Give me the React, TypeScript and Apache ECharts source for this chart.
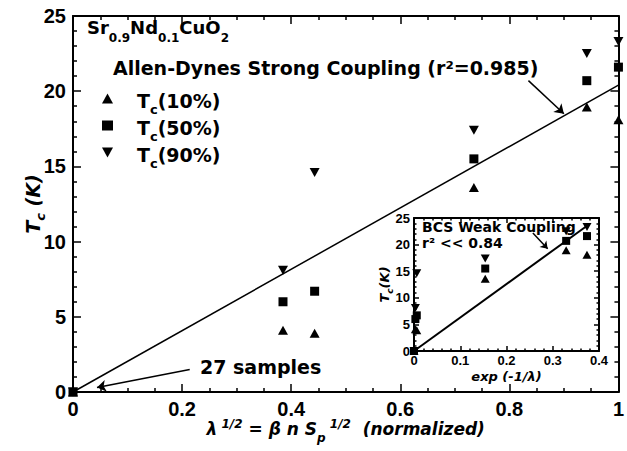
import React, { useEffect, useRef } from "react";
import * as echarts from "echarts";

const FONT = "'Liberation Sans', Arial, Helvetica, sans-serif";
const TFONT = "'DejaVu Sans', 'Liberation Sans', sans-serif";

// ---- data ----
const NAMES = ["Tc(10%)", "Tc(50%)", "Tc(90%)"];
const lambdaX = [0, 0.385, 0.443, 0.735, 0.942, 1.0]; // main x: lambda^1/2 normalized
const expX = [0, 0.003, 0.006, 0.154, 0.329, 0.374]; // inset x: exp(-1/lambda)
const tc10 = [0, 4.1, 3.9, 13.6, 18.95, 18.1];
const tc50 = [0, 6.0, 6.7, 15.5, 20.7, 21.6];
const tc90 = [0, 8.1, 14.6, 17.4, 22.5, 23.3];
const strongFitX = [0, 1];
const strongFitY = [0, 20.4];
const weakFitX = [0, 0.375];
const weakFitY = [0, 23.6];

// annotation arrows (data space)
const adArrowFrom = [0.835, 20.7];
const adArrowTo = [0.9, 18.5];
const sampArrowFrom = [0.214, 1.5];
const sampArrowTo = [0.044, 0.3];
const bcsArrowFrom = [0.257, 22.2];
const bcsArrowTo = [0.289, 19.2];

const zip = (xs: number[], ys: number[]) => xs.map((x, i) => [x, ys[i]]);
const DOWN_TRI = "path://M0,0L10,0L5,9Z";

function richSet(m: number, s: number, d: number, u: number, italic: boolean) {
  const T = u ? Math.max(0, s / 2 + u - m / 2) : 0;
  const mc = T + m / 2;
  const P = Math.max(0, mc + d - s / 2);
  const Q = Math.max(0, mc - u - s / 2);
  const base = {
    fontFamily: TFONT,
    fontWeight: "bold" as const,
    fontStyle: italic ? "italic" : "normal",
    color: "#000",
    verticalAlign: "top" as const,
  };
  return {
    m: { ...base, fontSize: m, padding: [T, 0, 0, 0] },
    s: { ...base, fontSize: s, padding: [P, 0, 0, 0] },
    u: { ...base, fontSize: s, padding: [Q, 0, 0, 0] },
  };
}

const tickStyle = { color: "#000", width: 1.5 };

function ax(grid: number, pos: string, min: number, max: number, interval: number, minorSplit: number, main: boolean, label: boolean, extra: any = {}) {
  const isY = pos === "left" || pos === "right";
  return {
    type: "value",
    gridIndex: grid,
    position: pos,
    min,
    max,
    interval,
    nameMoveOverlap: false,
    axisLine: { show: true, onZero: false, lineStyle: { color: "#000", width: 2 } },
    axisTick: { show: true, inside: true, length: main ? 8 : 5, lineStyle: tickStyle },
    minorTick: { show: true, splitNumber: minorSplit, length: main ? 4 : 2.5, lineStyle: tickStyle },
    splitLine: { show: false },
    minorSplitLine: { show: false },
    axisLabel: {
      show: label,
      fontSize: main ? 20 : 13,
      fontWeight: "bold",
      fontFamily: FONT,
      color: "#000",
      margin: main ? 7 : isY ? 4 : 3,
    },
    ...extra,
  };
}

export default function App() {
  const ref = useRef<HTMLDivElement>(null);
  useEffect(() => {
    if (!ref.current) return;
    const chart = echarts.init(ref.current, undefined, { renderer: "svg" });

    const scatter = (name: string, ys: number[], xs: number[], axi: number, symbol: string, size: any, z: number) => ({
      name,
      type: "scatter",
      xAxisIndex: axi,
      yAxisIndex: axi,
      data: zip(xs, ys),
      symbol,
      symbolSize: size,
      itemStyle: { color: "#000", opacity: 1 },
      z,
      silent: true,
    });

    const option: any = {
      animation: false,
      backgroundColor: "#fff",
      title: {
        left: 87,
        top: 18,
        padding: 0,
        text: "{m|Sr}{s|0.9}{m|Nd}{s|0.1}{m|CuO}{s|2}",
        textStyle: { rich: richSet(18, 12, 11, 0, false) },
      },
      legend: {
        orient: "vertical",
        left: 97,
        top: 86,
        itemWidth: 11,
        itemHeight: 10,
        itemGap: 2,
        selectedMode: false,
        data: [
          { name: NAMES[0], icon: "triangle" },
          { name: NAMES[1], icon: "rect" },
          { name: NAMES[2], icon: DOWN_TRI },
        ],
        formatter: (name: string) => `{sp|}{m|T}{s|c}{m|${name.slice(2)}}`,
        textStyle: {
          padding: [10, 0, 0, 0],
          rich: { sp: { width: 19 }, ...richSet(19, 13, 9, 0, false) },
        },
      },
      grid: [
        { left: 73, top: 16, width: 546, height: 376, containLabel: false },
        { left: 414, top: 218, width: 185, height: 133, show: true, backgroundColor: "#fff", borderWidth: 0, containLabel: false },
      ],
      xAxis: [
        ax(0, "bottom", 0, 1, 0.2, 4, true, true, {
          name: "{m|λ}{u| 1/2}{m| = β n S}{s|p}{u| 1/2}{m|  (normalized)}",
          nameLocation: "middle",
          nameGap: 26,
          nameTextStyle: { rich: richSet(17, 12, 9, 5, true) },
        }),
        ax(0, "top", 0, 1, 0.2, 4, true, false),
        ax(1, "bottom", 0, 0.4, 0.1, 5, false, true, {
          name: "{m|exp (-1/λ)}",
          nameLocation: "middle",
          nameGap: 19,
          nameTextStyle: { rich: richSet(13, 9, 5, 0, true) },
        }),
        ax(1, "top", 0, 0.4, 0.1, 5, false, false),
      ],
      yAxis: [
        ax(0, "left", 0, 25, 5, 5, true, true, {
          name: "{m|T}{s|c}{m| (K)}",
          nameLocation: "middle",
          nameRotate: 90,
          nameGap: 26,
          nameTextStyle: { rich: richSet(19, 13, 8, 0, true) },
        }),
        ax(0, "right", 0, 25, 5, 5, true, false),
        ax(1, "left", 0, 25, 5, 5, false, true, {
          name: "{m|T}{s|c}{m|(K)}",
          nameLocation: "middle",
          nameRotate: 90,
          nameGap: 20,
          nameTextStyle: { rich: richSet(13, 9, 5, 0, true) },
        }),
        ax(1, "right", 0, 25, 5, 5, false, false),
      ],
      graphic: [
        {
          type: "text",
          left: 113,
          top: 58,
          silent: true,
          style: { text: "Allen-Dynes Strong Coupling (r²=0.985)", fill: "#000", font: `bold 19px ${TFONT}` },
        },
        {
          type: "text",
          left: 200,
          top: 357,
          silent: true,
          style: { text: "27 samples", fill: "#000", font: `bold 19px ${TFONT}` },
        },
        {
          type: "text",
          left: 422,
          top: 220,
          silent: true,
          style: { text: "BCS Weak Coupling", fill: "#000", font: `bold 14px ${TFONT}` },
        },
        {
          type: "text",
          left: 422,
          top: 236,
          silent: true,
          style: { text: "r² << 0.84", fill: "#000", font: `bold 14px ${TFONT}` },
        },
      ],
      series: [
        scatter(NAMES[0], tc10, lambdaX, 0, "triangle", [10, 9], 3),
        scatter(NAMES[1], tc50, lambdaX, 0, "rect", 9, 5),
        scatter(NAMES[2], tc90, lambdaX, 0, DOWN_TRI, [10, 9], 4),
        {
          type: "line",
          xAxisIndex: 0,
          yAxisIndex: 0,
          data: zip(strongFitX, strongFitY),
          symbol: "none",
          silent: true,
          lineStyle: { color: "#000", width: 1.5 },
          z: 2,
          markLine: {
            silent: true,
            symbol: ["none", "arrow"],
            symbolSize: 9,
            label: { show: false },
            lineStyle: { color: "#000", width: 1.5, type: "solid" },
            data: [
              [{ coord: adArrowFrom }, { coord: adArrowTo }],
              [{ coord: sampArrowFrom }, { coord: sampArrowTo }],
            ],
          },
        },
        scatter(NAMES[0], tc10, expX, 2, "triangle", [9, 8], 3),
        scatter(NAMES[1], tc50, expX, 2, "rect", 8, 5),
        scatter(NAMES[2], tc90, expX, 2, DOWN_TRI, [9, 8], 4),
        {
          type: "line",
          xAxisIndex: 2,
          yAxisIndex: 2,
          data: zip(weakFitX, weakFitY),
          symbol: "none",
          silent: true,
          lineStyle: { color: "#000", width: 2 },
          z: 2,
          markLine: {
            silent: true,
            symbol: ["none", "arrow"],
            symbolSize: 7,
            label: { show: false },
            lineStyle: { color: "#000", width: 1.5, type: "solid" },
            data: [[{ coord: bcsArrowFrom }, { coord: bcsArrowTo }]],
          },
        },
      ],
    };
    chart.setOption(option);
    return () => chart.dispose();
  }, []);
  return (
    <div
      ref={ref}
      style={{ position: "absolute", left: 0, top: 0, width: 627, height: 451, background: "#fff" }}
    />
  );
}
